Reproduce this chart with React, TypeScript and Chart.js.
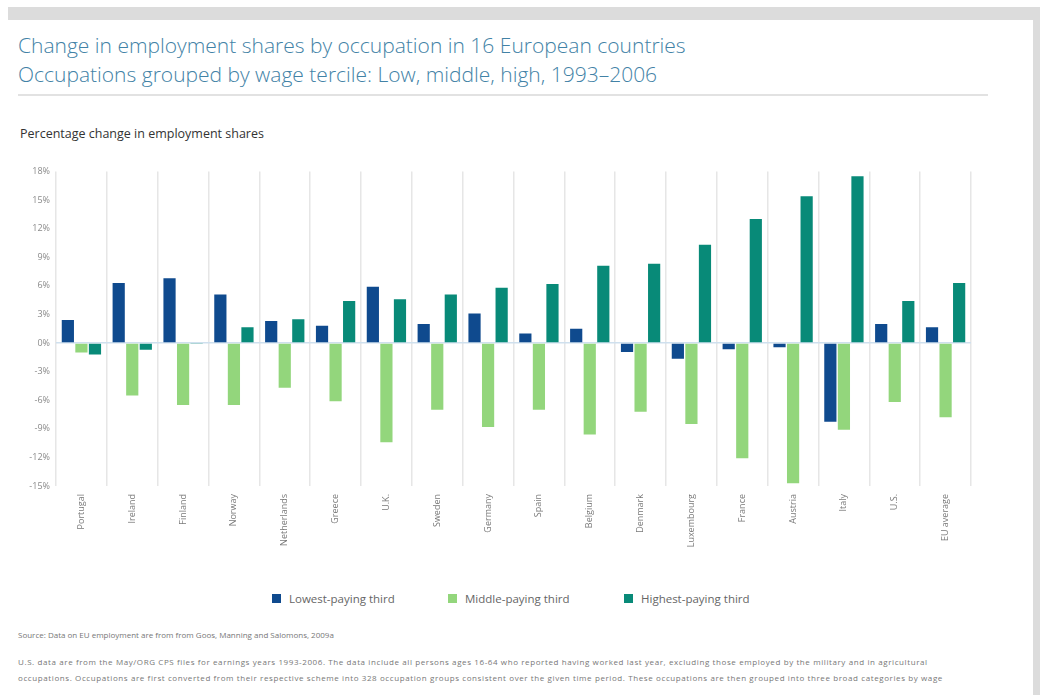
import React, { useEffect, useRef } from "react";
import { Chart, registerables } from "chart.js";

Chart.register(...registerables);

const countries = [
  "Portugal", "Ireland", "Finland", "Norway", "Netherlands", "Greece", "U.K.",
  "Sweden", "Germany", "Spain", "Belgium", "Denmark", "Luxembourg", "France",
  "Austria", "Italy", "U.S.", "EU average",
];
const lowestPaying = [2.4, 6.3, 6.8, 5.1, 2.3, 1.8, 5.9, 2.0, 3.1, 1.0, 1.5, -0.95, -1.65, -0.65, -0.45, -8.25, 2.0, 1.65];
const middlePaying = [-1.0, -5.5, -6.5, -6.5, -4.7, -6.1, -10.4, -7.0, -8.8, -7.0, -9.6, -7.2, -8.5, -12.1, -14.7, -9.1, -6.2, -7.8];
const highestPaying = [-1.2, -0.7, -0.1, 1.65, 2.5, 4.4, 4.6, 5.1, 5.8, 6.2, 8.1, 8.3, 10.3, 13.0, 15.4, 17.5, 4.4, 6.3];
const seriesNames = ["Lowest-paying third", "Middle-paying third", "Highest-paying third"];
const seriesColors = ["#0f4a8e", "#93d67c", "#088a78"];
const yMin = -15;
const yMax = 18;
const yStep = 3;

const FONT = "'Open Sans', 'Noto Sans', sans-serif";

export default function App() {
  const canvasRef = useRef<HTMLCanvasElement | null>(null);

  useEffect(() => {
    if (!canvasRef.current) return;
    const chart = new Chart(canvasRef.current, {
      type: "bar",
      data: {
        labels: countries,
        datasets: [lowestPaying, middlePaying, highestPaying].map((d, i) => ({
          label: seriesNames[i],
          data: d,
          backgroundColor: seriesColors[i],
          borderWidth: 0,
          categoryPercentage: 0.8,
          barPercentage: 0.9,
        })),
      },
      options: {
        animation: false,
        responsive: false,
        maintainAspectRatio: false,
        layout: { padding: { top: 8, right: 29, left: 0, bottom: 0 } },
        plugins: {
          legend: { display: false },
          tooltip: { enabled: false },
        },
        scales: {
          x: {
            offset: true,
            grid: {
              offset: true,
              drawTicks: false,
              color: "#e6e6e6",
              lineWidth: 1.5,
            },
            border: { display: false },
            ticks: {
              minRotation: 90,
              maxRotation: 90,
              padding: 8,
              color: "#7a7a7a",
              font: { family: FONT, size: 9 },
            },
            afterFit: (s: any) => {
              s.height = 84;
            },
          },
          y: {
            min: yMin,
            max: yMax,
            border: { display: false },
            grid: {
              drawTicks: false,
              color: (c: any) => (c.tick && c.tick.value === 0 ? "#cfe0ee" : "rgba(0,0,0,0)"),
              lineWidth: 1.5,
            },
            ticks: {
              stepSize: yStep,
              padding: 6,
              color: "#8a8a8a",
              font: { family: FONT, size: 9 },
              callback: (v: any) => `${v}%`,
            },
            afterFit: (s: any) => {
              s.width = 56;
            },
          },
        },
      },
    });
    return () => chart.destroy();
  }, []);

  const legendItem = (i: number, left: number) => (
    <div
      key={i}
      style={{
        position: "absolute",
        left,
        top: 591,
        display: "flex",
        alignItems: "center",
        fontFamily: FONT,
        fontSize: 11.5,
        color: "#666",
        whiteSpace: "nowrap",
      }}
    >
      <span style={{ display: "inline-block", width: 9, height: 9, background: seriesColors[i], marginRight: 8 }} />
      {seriesNames[i]}
    </div>
  );

  return (
    <div style={{ position: "absolute", left: 0, top: 0, width: 1040, height: 695, background: "#fff", overflow: "hidden" }}>
      <div style={{ position: "absolute", left: 8, top: 7, width: 1032, height: 13, background: "#dcdcdc" }} />
      <div style={{ position: "absolute", left: 1033, top: 7, width: 7, height: 688, background: "#dcdcdc" }} />
      <div
        style={{
          position: "absolute",
          left: 18,
          top: 31,
          fontFamily: FONT,
          fontWeight: 300,
          fontSize: 21,
          lineHeight: "29px",
          color: "#4282a6",
          whiteSpace: "nowrap",
        }}
      >
        <div>Change in employment shares by occupation in 16 European countries</div>
        <div>Occupations grouped by wage tercile: Low, middle, high, 1993–2006</div>
      </div>
      <div style={{ position: "absolute", left: 18, top: 94, width: 970, height: 2, background: "#e2e2e2" }} />
      <div
        style={{
          position: "absolute",
          left: 20,
          top: 125,
          fontFamily: FONT,
          fontSize: 12.5,
          color: "#333",
          whiteSpace: "nowrap",
        }}
      >
        Percentage change in employment shares
      </div>
      <canvas ref={canvasRef} width={1000} height={410} style={{ position: "absolute", left: 0, top: 160 }} />
      {legendItem(0, 272)}
      {legendItem(1, 448)}
      {legendItem(2, 624)}
      <div
        style={{
          position: "absolute",
          left: 18,
          top: 629,
          fontFamily: FONT,
          fontSize: 8,
          color: "#777",
          whiteSpace: "nowrap",
        }}
      >
        Source: Data on EU employment are from from Goos, Manning and Salomons, 2009a
      </div>
      <div
        style={{
          position: "absolute",
          left: 18,
          top: 654,
          fontFamily: FONT,
          fontSize: 8,
          letterSpacing: 0.6,
          lineHeight: "16px",
          color: "#777",
          whiteSpace: "nowrap",
        }}
      >
        <div>
          U.S. data are from the May/ORG CPS files for earnings years 1993-2006. The data include all persons ages 16-64 who reported having worked last year, excluding those employed by the military and in agricultural
        </div>
        <div>
          occupations. Occupations are first converted from their respective scheme into 328 occupation groups consistent over the given time period. These occupations are then grouped into three broad categories by wage
        </div>
      </div>
    </div>
  );
}
